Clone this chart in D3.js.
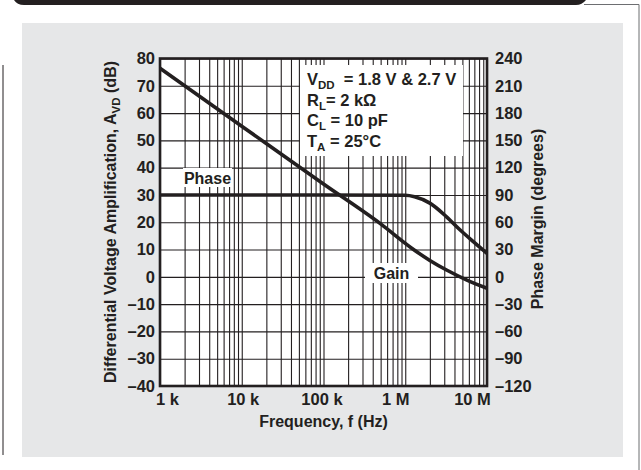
<!DOCTYPE html>
<html>
<head>
<meta charset="utf-8">
<script src="https://cdn.jsdelivr.net/npm/d3@7"></script>
<style>
  html, body { margin: 0; padding: 0; background: #fff; }
  svg { display: block; }
  text { font-family: "Liberation Sans", Arial, Helvetica, sans-serif; font-weight: bold; fill: #231f20; }
</style>
</head>
<body>
<svg id="chart" width="641" height="470"></svg>
<script>
// Frequency-response data: differential voltage gain and phase margin vs. frequency
const gainFreq  = [1e3, 1e4, 1e5, 5e5, 1.2e6, 2e6, 3.2e6, 5.6e6, 1e7];
const gainDb    = [76.4, 55.2, 34.0, 19.4, 10.5, 6.0, 2.5, -1.1, -4.2];
const phaseFreq = [1e3, 1e5, 1e6, 1.3e6, 2e6, 3.2e6, 4.7e6, 6.8e6, 1e7];
const phaseDeg  = [90, 90, 89.6, 88, 81, 66, 51.5, 38.7, 25.8];

const freqTicks  = [1e3, 1e4, 1e5, 1e6, 1e7];
const freqLabels = ["1 k", "10 k", "100 k", "1 M", "10 M"];
const gainTicks  = [80, 70, 60, 50, 40, 30, 20, 10, 0, -10, -20, -30, -40];
const phaseTicks = [240, 210, 180, 150, 120, 90, 60, 30, 0, -30, -60, -90, -120];

const conditions = [
  [["V", ""], ["DD", "sub"], ["  = 1.8 V & 2.7 V", ""]],
  [["R", ""], ["L", "sub"], ["= 2 k\u03A9", ""]],
  [["C", ""], ["L", "sub"], [" = 10 pF", ""]],
  [["T", ""], ["A", "sub"], [" = 25\u00B0C", ""]]
];

const svg = d3.select("#chart");
const W = 641, H = 470;
const plot = { left: 160, top: 58.5, right: 487, bottom: 386 };

// Page decoration: header bar, frame lines and grey panel
svg.append("path")
  .attr("d", "M14,0 L586,0 Q582,5 576,5 L24,5 Q17,5 14,0 Z")
  .attr("fill", "#231f20");
svg.append("line").attr("x1", 584).attr("x2", 639).attr("y1", 4.5).attr("y2", 4.5)
  .attr("stroke", "#6d6e71").attr("stroke-width", 1);
svg.append("line").attr("x1", 639).attr("x2", 639).attr("y1", 4.5).attr("y2", H)
  .attr("stroke", "#6d6e71").attr("stroke-width", 1);
svg.append("line").attr("x1", 3).attr("x2", 3).attr("y1", 65).attr("y2", 455)
  .attr("stroke", "#231f20").attr("stroke-width", 1);
svg.append("rect").attr("x", 22).attr("y", 23).attr("width", 601).attr("height", 434)
  .attr("fill", "#e6e7e8");

const x = d3.scaleLog().domain([1e3, 1e7]).range([plot.left, plot.right]);
const y = d3.scaleLinear().domain([-40, 80]).range([plot.bottom, plot.top]);
const yPhase = d3.scaleLinear().domain([-120, 240]).range([plot.bottom, plot.top]);

const pw = plot.right - plot.left, ph = plot.bottom - plot.top;

svg.append("rect").attr("x", plot.left).attr("y", plot.top)
  .attr("width", pw).attr("height", ph).attr("fill", "#fff");

// Grid: decade and minor log lines, 10 dB horizontal lines
const gridV = svg.append("g").attr("transform", `translate(0,${plot.bottom})`)
  .call(d3.axisBottom(x).tickValues(x.ticks()).tickSize(-ph).tickFormat(""));
const gridH = svg.append("g").attr("transform", `translate(${plot.left},0)`)
  .call(d3.axisLeft(y).tickValues(gainTicks).tickSize(-pw).tickFormat(""));
[gridV, gridH].forEach(g => {
  g.select(".domain").remove();
  g.selectAll(".tick line").attr("stroke", "#231f20").attr("stroke-width", 1.1);
});

// Conditions box
svg.append("rect").attr("x", 300).attr("y", 65).attr("width", 163).attr("height", 91)
  .attr("fill", "#fff");
const condText = svg.append("g").attr("font-size", 16.5);
conditions.forEach((parts, i) => {
  const t = condText.append("text").attr("x", 307).attr("y", 85 + i * 20.5)
    .style("white-space", "pre");
  parts.forEach(([s, kind], j) => {
    const ts = t.append("tspan").text(s);
    if (kind === "sub") ts.attr("font-size", 11.5).attr("dy", 4);
    else if (j > 0) ts.attr("dy", -4);
  });
});

// Curve labels
svg.append("rect").attr("x", 183).attr("y", 168).attr("width", 49).attr("height", 19).attr("fill", "#fff");
svg.append("text").attr("x", 207.5).attr("y", 183.5).attr("text-anchor", "middle")
  .attr("font-size", 16).text("Phase");
svg.append("rect").attr("x", 365).attr("y", 263).attr("width", 53).attr("height", 20).attr("fill", "#fff");
svg.append("text").attr("x", 391.5).attr("y", 279).attr("text-anchor", "middle")
  .attr("font-size", 16).text("Gain");

// Curves
const gainLine = d3.line().x(d => x(d[0])).y(d => y(d[1])).curve(d3.curveMonotoneX);
const phaseLine = d3.line().x(d => x(d[0])).y(d => yPhase(d[1])).curve(d3.curveMonotoneX);
svg.append("path").datum(d3.zip(gainFreq, gainDb)).attr("d", gainLine)
  .attr("fill", "none").attr("stroke", "#231f20").attr("stroke-width", 3.6);
svg.append("path").datum(d3.zip(phaseFreq, phaseDeg)).attr("d", phaseLine)
  .attr("fill", "none").attr("stroke", "#231f20").attr("stroke-width", 3.6);

// Frame
svg.append("rect").attr("x", plot.left).attr("y", plot.top)
  .attr("width", pw).attr("height", ph)
  .attr("fill", "none").attr("stroke", "#231f20").attr("stroke-width", 2.6);

// Axes labels
const fmt = d => d < 0 ? "\u2013" + Math.abs(d) : String(d);
const axL = svg.append("g").attr("transform", `translate(${plot.left},0)`)
  .call(d3.axisLeft(y).tickValues(gainTicks).tickSize(0).tickPadding(5).tickFormat(fmt));
const axR = svg.append("g").attr("transform", `translate(${plot.right},0)`)
  .call(d3.axisRight(yPhase).tickValues(phaseTicks).tickSize(0).tickPadding(8).tickFormat(fmt));
const axB = svg.append("g").attr("transform", `translate(0,${plot.bottom})`)
  .call(d3.axisBottom(x).tickValues(freqTicks).tickSize(0).tickPadding(7)
    .tickFormat((d, i) => freqLabels[i]));
[axL, axR, axB].forEach(g => {
  g.select(".domain").remove();
  g.attr("font-family", null).attr("font-size", null);
  g.selectAll("text").attr("font-size", 16.5).attr("fill", "#231f20");
});
// Nudge the end labels of the frequency axis inside the plot span
const freqShift = [7, 1, -2, -10, -15];
axB.selectAll(".tick text").attr("dx", (d, i) => freqShift[i]);

// Axis titles
svg.append("text").attr("x", 323.5).attr("y", 427).attr("text-anchor", "middle")
  .attr("font-size", 16).text("Frequency, f (Hz)");

const lt = svg.append("text").attr("transform", "translate(116,222) rotate(-90)")
  .attr("text-anchor", "middle").attr("font-size", 16);
lt.append("tspan").text("Differential Voltage Amplification, A");
lt.append("tspan").attr("font-size", 11.5).attr("dy", 4).text("VD");
lt.append("tspan").attr("dy", -4).text(" (dB)");

svg.append("text").attr("transform", "translate(543,219) rotate(-90)")
  .attr("text-anchor", "middle").attr("font-size", 16).text("Phase Margin (degrees)");
</script>
</body>
</html>
